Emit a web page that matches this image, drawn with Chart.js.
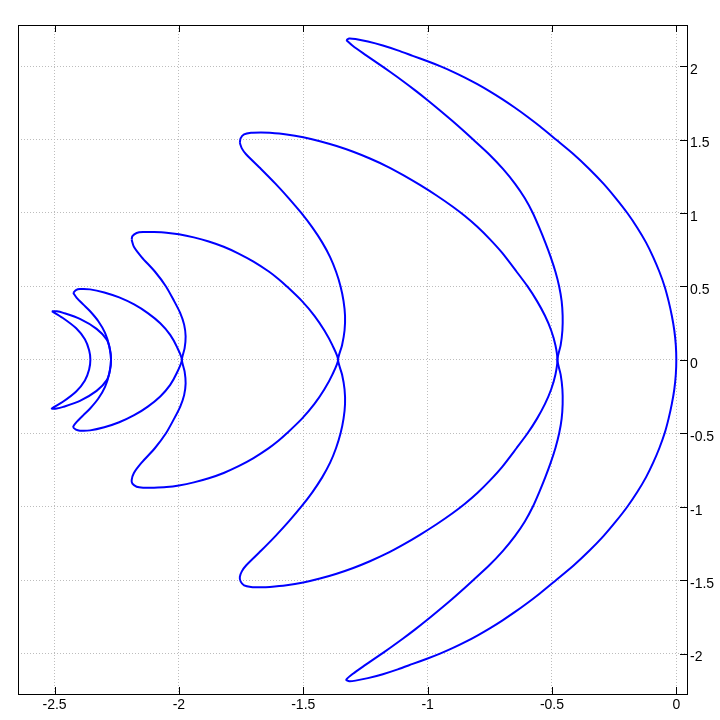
<!DOCTYPE html>
<html>
<head>
<meta charset="utf-8">
<script src="https://cdn.jsdelivr.net/npm/chart.js@4/dist/chart.umd.min.js"></script>
<style>
  html, body { margin: 0; padding: 0; background: #fff; }
  #plot { display: block; }
</style>
</head>
<body>
<canvas id="plot" width="720" height="720"></canvas>
<script>
const COLOR_LINE = '#0000ff';
const COLOR_GRID = '#bdbdbd';
const COLOR_AXIS = '#000000';
const FONT_TICK = { family: "'Liberation Sans', Arial, sans-serif", size: 14 };

const X_TICKS = [-2.5, -2, -1.5, -1, -0.5, 0];
const Y_TICKS = [-2, -1.5, -1, -0.5, 0, 0.5, 1, 1.5, 2];
const X_RANGE = [-2.647, 0.043];
const Y_RANGE = [-2.275, 2.28];

// Five closed crescents, each traced from its upper tip: outer arc down to
// the lower tip, then the inner arc back up.
const crescent1 = [
  [-1.327, 2.178], [-1.315, 2.188], [-1.290, 2.184], [-1.240, 2.167], [-1.180, 2.140],
  [-1.120, 2.107], [-1.060, 2.070], [-1.000, 2.033], [-0.950, 2.000], [-0.900, 1.963],
  [-0.850, 1.922], [-0.800, 1.877], [-0.750, 1.828], [-0.700, 1.775], [-0.650, 1.718],
  [-0.600, 1.657], [-0.550, 1.592], [-0.484, 1.500], [-0.413, 1.400], [-0.350, 1.300],
  [-0.293, 1.200], [-0.243, 1.100], [-0.197, 1.000], [-0.157, 0.900], [-0.122, 0.800],
  [-0.093, 0.700], [-0.068, 0.600], [-0.047, 0.500], [-0.031, 0.400], [-0.018, 0.300],
  [-0.008, 0.200], [-0.002, 0.100], [0, 0],
  [-0.002, -0.100], [-0.008, -0.200], [-0.018, -0.300], [-0.031, -0.400], [-0.047, -0.500],
  [-0.068, -0.600], [-0.093, -0.700], [-0.122, -0.800], [-0.157, -0.900], [-0.197, -1.000],
  [-0.243, -1.100], [-0.293, -1.200], [-0.350, -1.300], [-0.413, -1.400], [-0.484, -1.500],
  [-0.550, -1.592], [-0.600, -1.657], [-0.650, -1.718], [-0.700, -1.775], [-0.750, -1.828],
  [-0.800, -1.877], [-0.850, -1.922], [-0.900, -1.963], [-0.950, -2.000], [-1.000, -2.033],
  [-1.060, -2.070], [-1.120, -2.107], [-1.180, -2.140], [-1.240, -2.167], [-1.290, -2.184],
  [-1.315, -2.188], [-1.327, -2.178],
  [-1.300, -2.137], [-1.250, -2.077], [-1.200, -2.019], [-1.150, -1.960], [-1.100, -1.899],
  [-1.050, -1.835], [-1.000, -1.768], [-0.950, -1.698], [-0.900, -1.626], [-0.850, -1.551],
  [-0.817, -1.500], [-0.753, -1.400], [-0.697, -1.300], [-0.649, -1.200], [-0.609, -1.100],
  [-0.577, -1.000], [-0.551, -0.900], [-0.527, -0.800], [-0.505, -0.700], [-0.486, -0.600],
  [-0.471, -0.500], [-0.461, -0.400], [-0.457, -0.300], [-0.458, -0.200], [-0.465, -0.100],
  [-0.478, 0],
  [-0.465, 0.100], [-0.458, 0.200], [-0.457, 0.300], [-0.461, 0.400], [-0.471, 0.500],
  [-0.486, 0.600], [-0.505, 0.700], [-0.527, 0.800], [-0.551, 0.900], [-0.577, 1.000],
  [-0.609, 1.100], [-0.649, 1.200], [-0.697, 1.300], [-0.753, 1.400], [-0.817, 1.500],
  [-0.850, 1.551], [-0.900, 1.626], [-0.950, 1.698], [-1.000, 1.768], [-1.050, 1.835],
  [-1.100, 1.899], [-1.150, 1.960], [-1.200, 2.019], [-1.250, 2.077], [-1.300, 2.137],
  [-1.327, 2.178]
];

const crescent2 = [
  [-1.755, 1.477], [-1.752, 1.508], [-1.738, 1.535], [-1.710, 1.546], [-1.670, 1.548],
  [-1.634, 1.546], [-1.567, 1.535], [-1.500, 1.516], [-1.433, 1.489], [-1.366, 1.456],
  [-1.299, 1.417], [-1.232, 1.371], [-1.164, 1.318], [-1.098, 1.258], [-1.031, 1.191],
  [-0.964, 1.119], [-0.900, 1.044], [-0.850, 0.979], [-0.800, 0.906], [-0.750, 0.822],
  [-0.700, 0.728], [-0.642, 0.600], [-0.598, 0.500], [-0.560, 0.400], [-0.528, 0.300],
  [-0.503, 0.200], [-0.486, 0.100], [-0.478, 0],
  [-0.486, -0.100], [-0.503, -0.200], [-0.528, -0.300], [-0.560, -0.400], [-0.598, -0.500],
  [-0.642, -0.600], [-0.700, -0.728], [-0.750, -0.822], [-0.800, -0.906], [-0.850, -0.979],
  [-0.900, -1.044], [-0.964, -1.119], [-1.031, -1.191], [-1.098, -1.258], [-1.164, -1.318],
  [-1.232, -1.371], [-1.299, -1.417], [-1.366, -1.456], [-1.433, -1.489], [-1.500, -1.516],
  [-1.567, -1.535], [-1.634, -1.546], [-1.670, -1.548], [-1.710, -1.546], [-1.738, -1.535],
  [-1.752, -1.508], [-1.755, -1.477],
  [-1.747, -1.440], [-1.730, -1.400], [-1.670, -1.300], [-1.612, -1.200], [-1.558, -1.100],
  [-1.508, -1.000], [-1.463, -0.900], [-1.424, -0.800], [-1.392, -0.700], [-1.368, -0.600],
  [-1.350, -0.500], [-1.338, -0.400], [-1.332, -0.300], [-1.334, -0.200], [-1.344, -0.100],
  [-1.360, 0],
  [-1.344, 0.100], [-1.334, 0.200], [-1.332, 0.300], [-1.338, 0.400], [-1.350, 0.500],
  [-1.368, 0.600], [-1.392, 0.700], [-1.424, 0.800], [-1.463, 0.900], [-1.508, 1.000],
  [-1.558, 1.100], [-1.612, 1.200], [-1.670, 1.300], [-1.730, 1.400], [-1.747, 1.440],
  [-1.755, 1.477]
];

const crescent3 = [
  [-2.190, 0.819], [-2.187, 0.843], [-2.170, 0.864], [-2.144, 0.870], [-2.100, 0.870],
  [-2.050, 0.866], [-2.000, 0.855], [-1.940, 0.834], [-1.880, 0.806], [-1.820, 0.770],
  [-1.760, 0.724], [-1.700, 0.669], [-1.640, 0.603], [-1.600, 0.551], [-1.566, 0.500],
  [-1.505, 0.400], [-1.455, 0.300], [-1.415, 0.200], [-1.383, 0.100], [-1.360, 0],
  [-1.383, -0.100], [-1.415, -0.200], [-1.455, -0.300], [-1.505, -0.400], [-1.566, -0.500],
  [-1.600, -0.551], [-1.640, -0.603], [-1.700, -0.669], [-1.760, -0.724], [-1.820, -0.770],
  [-1.880, -0.806], [-1.940, -0.834], [-2.000, -0.855], [-2.050, -0.866], [-2.100, -0.870],
  [-2.144, -0.870], [-2.170, -0.864], [-2.187, -0.843], [-2.190, -0.819],
  [-2.181, -0.770], [-2.150, -0.700], [-2.096, -0.600], [-2.052, -0.500], [-2.019, -0.400],
  [-1.995, -0.320], [-1.979, -0.240], [-1.973, -0.160], [-1.977, -0.080], [-1.988, 0],
  [-1.977, 0.080], [-1.973, 0.160], [-1.979, 0.240], [-1.995, 0.320], [-2.019, 0.400],
  [-2.052, 0.500], [-2.096, 0.600], [-2.150, 0.700], [-2.181, 0.770], [-2.190, 0.819]
];

const crescent4 = [
  [-2.425, 0.456], [-2.414, 0.475], [-2.398, 0.482], [-2.357, 0.480], [-2.300, 0.459],
  [-2.240, 0.425], [-2.180, 0.377], [-2.125, 0.318], [-2.075, 0.249], [-2.035, 0.170],
  [-2.008, 0.088], [-1.988, 0],
  [-2.008, -0.088], [-2.035, -0.170], [-2.075, -0.249], [-2.125, -0.318], [-2.180, -0.377],
  [-2.240, -0.425], [-2.300, -0.459], [-2.357, -0.480], [-2.398, -0.482], [-2.414, -0.475],
  [-2.425, -0.456],
  [-2.411, -0.422], [-2.384, -0.376], [-2.357, -0.331], [-2.324, -0.263], [-2.297, -0.184],
  [-2.280, -0.093], [-2.273, 0],
  [-2.280, 0.093], [-2.297, 0.184], [-2.324, 0.263], [-2.357, 0.331], [-2.384, 0.376],
  [-2.411, 0.422], [-2.425, 0.456]
];

const crescent5 = [
  [-2.511, 0.331], [-2.491, 0.331], [-2.465, 0.320], [-2.398, 0.279], [-2.331, 0.211],
  [-2.290, 0.138], [-2.277, 0.070], [-2.273, 0],
  [-2.277, -0.070], [-2.290, -0.138], [-2.331, -0.211], [-2.398, -0.279], [-2.465, -0.320],
  [-2.491, -0.331], [-2.511, -0.331],
  [-2.468, -0.287], [-2.413, -0.215], [-2.378, -0.140], [-2.361, -0.065], [-2.356, 0],
  [-2.361, 0.065], [-2.378, 0.140], [-2.413, 0.215], [-2.468, 0.287], [-2.511, 0.331]
];

const CRESCENTS = [crescent1, crescent2, crescent3, crescent4, crescent5];

// MATLAB-style box: solid frame with short inward tick marks.
const frameTicks = {
  id: 'frameTicks',
  afterDraw(chart) {
    const { ctx, chartArea: a, scales } = chart;
    const len = 7;
    ctx.save();
    ctx.strokeStyle = COLOR_AXIS;
    ctx.lineWidth = 1;
    ctx.beginPath();
    X_TICKS.forEach((v) => {
      const x = Math.round(scales.x.getPixelForValue(v)) + 0.5;
      ctx.moveTo(x, a.top); ctx.lineTo(x, a.top + len);
      ctx.moveTo(x, a.bottom); ctx.lineTo(x, a.bottom - len);
    });
    Y_TICKS.forEach((v) => {
      const y = Math.round(scales.y.getPixelForValue(v)) + 0.5;
      ctx.moveTo(a.right, y); ctx.lineTo(a.right - len, y);
    });
    ctx.stroke();
    ctx.strokeRect(a.left + 0.5, a.top + 0.5, a.right - a.left, a.bottom - a.top);
    ctx.restore();
  }
};

const fmt = (v) => String(v);

new Chart(document.getElementById('plot'), {
  type: 'scatter',
  data: {
    datasets: CRESCENTS.map((pts) => ({
      data: pts.map(([x, y]) => ({ x, y })),
      showLine: true,
      borderColor: COLOR_LINE,
      borderWidth: 2,
      pointRadius: 0,
      tension: 0.25,
      fill: false
    }))
  },
  options: {
    responsive: false,
    animation: false,
    layout: { padding: { left: 18, top: 25, right: 0, bottom: 0 } },
    plugins: { legend: { display: false }, tooltip: { enabled: false } },
    scales: {
      x: {
        type: 'linear',
        min: X_RANGE[0],
        max: X_RANGE[1],
        afterBuildTicks: (s) => { s.ticks = X_TICKS.map((value) => ({ value })); },
        afterFit: (s) => { s.height = 26; },
        ticks: { color: COLOR_AXIS, font: FONT_TICK, padding: 3, maxRotation: 0, callback: fmt },
        grid: { color: COLOR_GRID, lineWidth: 1, drawTicks: false },
        border: { display: false, dash: [1, 2] }
      },
      y: {
        type: 'linear',
        position: 'right',
        min: Y_RANGE[0],
        max: Y_RANGE[1],
        afterBuildTicks: (s) => { s.ticks = Y_TICKS.map((value) => ({ value })); },
        afterFit: (s) => { s.width = 33; },
        ticks: { color: COLOR_AXIS, font: FONT_TICK, padding: 3, labelOffset: 4, callback: fmt },
        grid: { color: COLOR_GRID, lineWidth: 1, drawTicks: false },
        border: { display: false, dash: [1, 2] }
      }
    }
  },
  plugins: [frameTicks]
});
</script>
</body>
</html>
